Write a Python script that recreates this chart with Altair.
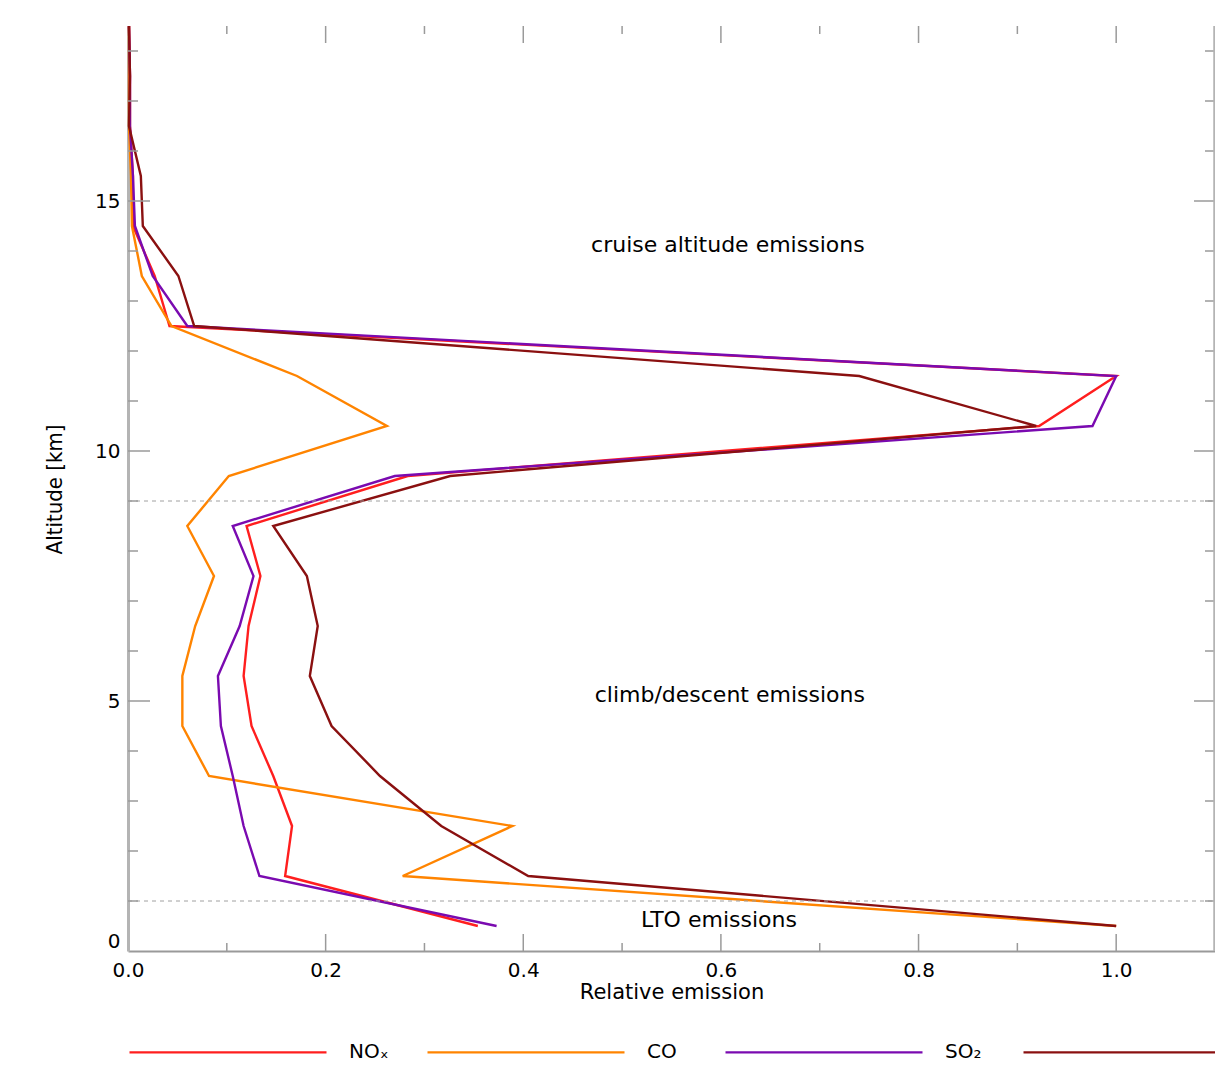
import altair as alt
import pandas as pd

# ---------------- data ----------------
altitude = [0.5, 1.5, 2.5, 3.5, 4.5, 5.5, 6.5, 7.5, 8.5, 9.5,
            10.5, 11.5, 12.5, 13.5, 14.5, 15.5, 16.5, 17.5, 18.5]
nox = [0.354, 0.159, 0.166, 0.147, 0.125, 0.117, 0.122, 0.134, 0.120, 0.283,
       0.922, 1.000, 0.042, 0.027, 0.005, 0.005, 0.002, 0.002, 0.001]
co = [1.000, 0.278, 0.389, 0.082, 0.055, 0.055, 0.068, 0.087, 0.060, 0.102,
      0.262, 0.171, 0.044, 0.014, 0.004, 0.003, 0.001, 0.001, 0.001]
so2 = [0.373, 0.133, 0.117, 0.106, 0.094, 0.091, 0.113, 0.127, 0.106, 0.270,
       0.976, 1.000, 0.060, 0.025, 0.007, 0.005, 0.002, 0.002, 0.001]
fourth = [1.000, 0.405, 0.317, 0.255, 0.206, 0.184, 0.192, 0.181, 0.147, 0.326,
          0.919, 0.740, 0.067, 0.051, 0.015, 0.013, 0.001, 0.002, 0.001]

species = ["NOₓ", "CO", "SO₂", "fourth"]
colors = ["#ff1e1e", "#ff8400", "#7a0ab0", "#8a1010"]

boundaries = [1, 9]
region_labels = ["cruise altitude emissions", "climb/descent emissions", "LTO emissions"]
region_x = [0.607, 0.609, 0.598]
region_y = [14.12, 5.12, 0.62]

x_label_ticks = [0.0, 0.2, 0.4, 0.6, 0.8, 1.0]
x_major = [0.2, 0.4, 0.6, 0.8, 1.0]
x_minor = [0.1, 0.3, 0.5, 0.7, 0.9]
y_label_ticks = [0, 5, 10, 15]
y_major = [5, 10, 15]
y_minor = [1, 2, 3, 4, 6, 7, 8, 9, 11, 12, 13, 14, 16, 17, 18]

# ---------------- tables ----------------
rows = []
for name, vals in zip(species, [nox, co, so2, fourth]):
    for a, v in zip(altitude, vals):
        rows.append({"species": name, "altitude": a, "value": v})
df = pd.DataFrame(rows)

W, H = 1087, 925
FONT = "DejaVu Sans"
NARROW = "'DejaVu Sans Condensed', 'Liberation Sans Narrow', 'Roboto Condensed', 'DejaVu Sans'"
AXIS_GREY = "#b4b4b4"
TICK_GREY = "#9a9a9a"

xs = alt.Scale(domain=[0, 1.1], nice=False, zero=True)
ys = alt.Scale(domain=[0, 18.5], nice=False, zero=True)

x_axis = alt.Axis(
    values=x_label_ticks, format=".1f", title="Relative emission", orient="bottom",
    ticks=False, grid=False, domainColor=TICK_GREY, domainWidth=2,
    labelFont=FONT, labelFontSize=20, labelColor="#000000", labelPadding=9,
    labelFlush=False, titleFont=FONT, titleFontSize=21, titleFontWeight="normal",
    titleColor="#000000", titlePadding=1)
y_axis = alt.Axis(
    values=y_label_ticks, format="d", title="Altitude [km]", orient="left",
    ticks=False, grid=False, domainColor=AXIS_GREY, domainWidth=3,
    labelFont=FONT, labelFontSize=20, labelColor="#000000", labelPadding=8,
    labelFlush=True, titleFont=NARROW, titleFontSize=22,
    titleFontWeight="normal", titleColor="#000000", titleX=-62, titleY=463)

lines = alt.Chart(df).mark_line(strokeWidth=2.4).encode(
    x=alt.X("value:Q", scale=xs, axis=x_axis),
    y=alt.Y("altitude:Q", scale=ys, axis=y_axis),
    color=alt.Color("species:N", scale=alt.Scale(domain=species, range=colors),
                    legend=alt.Legend(
                        title=None, orient="none", legendX=0, legendY=H + 101 - 99.6,
                        direction="horizontal", symbolType="stroke",
                        symbolSize=197 ** 2, symbolStrokeWidth=2.4,
                        labelFont=FONT, labelFontSize=20, labelColor="#000000",
                        labelOffset=21, columnPadding=33, gridAlign="all",
                        labelExpr="datum.label == 'fourth' ? '' : datum.label")),
    order=alt.Order("altitude:Q"),
)

bdf = pd.DataFrame({"b": boundaries})
dashed = alt.Chart(bdf).mark_rule(strokeDash=[4, 4], color="#a0a0a0", strokeWidth=1).encode(
    y=alt.Y("b:Q", scale=ys), x=alt.value(0), x2=alt.value(W))

adf = pd.DataFrame({"label": region_labels, "x": region_x, "y": region_y})
annot = alt.Chart(adf).mark_text(font=FONT, fontSize=22, color="#000",
                                 align="center", baseline="middle").encode(
    x=alt.X("x:Q", scale=xs), y=alt.Y("y:Q", scale=ys), text="label:N")


def hticks(values, x0, x1):
    return alt.Chart(pd.DataFrame({"v": values})).mark_rule(
        color=TICK_GREY, strokeWidth=1.5).encode(
        y=alt.Y("v:Q", scale=ys), x=alt.value(x0), x2=alt.value(x1))


def vticks(values, y0, y1):
    return alt.Chart(pd.DataFrame({"v": values})).mark_rule(
        color=TICK_GREY, strokeWidth=1.5).encode(
        x=alt.X("v:Q", scale=xs), y=alt.value(y0), y2=alt.value(y1))


ticks = [
    hticks(y_minor, 0, 10), hticks(y_major, 0, 22),
    hticks(y_minor, W - 10, W), hticks(y_major, W - 21, W),
    vticks(x_minor, H, H - 8), vticks(x_major, H, H - 17),
    vticks(x_minor, 0, 8), vticks(x_major, 0, 17),
]

right_border = alt.Chart(bdf).mark_rule(color=AXIS_GREY, strokeWidth=3).encode(
    x=alt.value(W), y=alt.value(0), y2=alt.value(H))

chart = alt.layer(lines, dashed, *ticks, right_border, annot).properties(
    width=W, height=H, background="white",
    padding={"left": 120, "top": 18, "right": 0, "bottom": 120},
    autosize=alt.AutoSizeParams(type="none"),
).configure_view(stroke=None)

chart.save("out.html", embed_options={"renderer": "svg", "actions": False})
